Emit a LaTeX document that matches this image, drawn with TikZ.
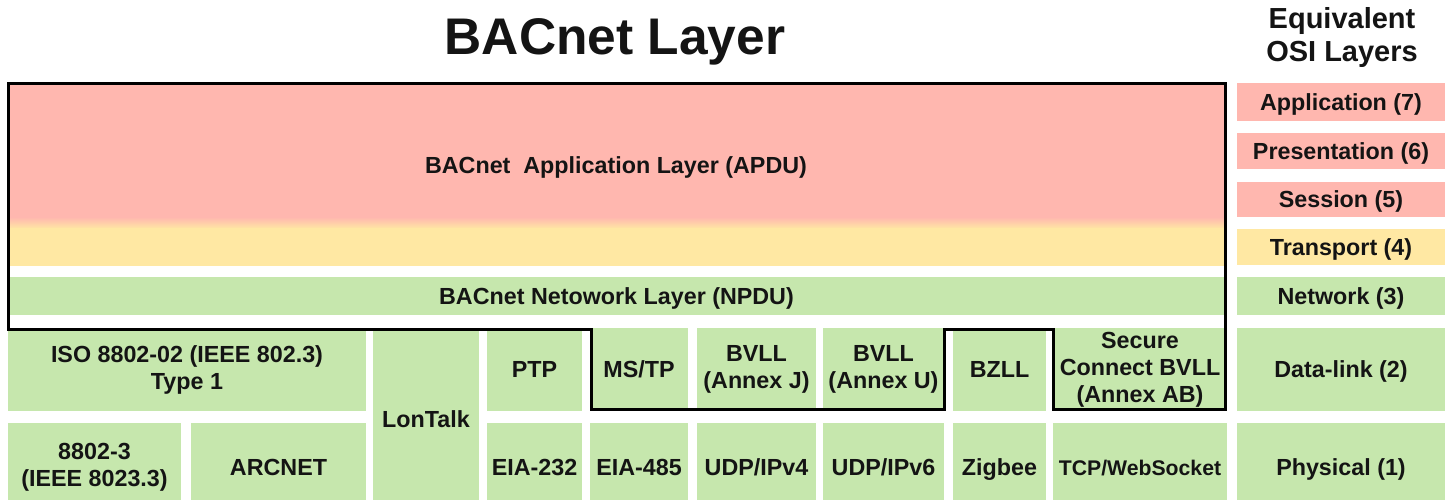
\documentclass[tikz,border=0pt]{standalone}
\usepackage{fontspec}
\setmainfont{Liberation Sans}
\definecolor{appred}{HTML}{FFB7AF}
\definecolor{trnyel}{HTML}{FFE8A3}
\definecolor{lgreen}{HTML}{C6E7AD}
\definecolor{ink}{HTML}{141414}
\tikzset{
  cell/.style={inner sep=0pt, outer sep=0pt, align=center, text=ink,
    font=\bfseries\fontsize{23.3}{27}\selectfont},
  gcell/.style={cell, fill=lgreen},
  oneline/.style={text height=18pt, text depth=1.3pt},
  osiheadtext/.style={inner sep=0pt, text=ink, font=\bfseries\fontsize{29}{33}\selectfont},
  stackline/.style={draw=black, line width=3pt, line join=miter}
}
\begin{document}
\begin{tikzpicture}[x=1pt, y=-1pt]
\useasboundingbox (0,0) rectangle (1448,500);
\clip (0,0) rectangle (1448,500);
\fill[white] (0,0) rectangle (1448,500);

% headings
\node[inner sep=0pt, text=ink, font=\bfseries\fontsize{51.5}{55}\selectfont] (title) at (615,42) {BACnet Layer};
\node[osiheadtext] (eqv) at (1342,21) {Equivalent};
\node[osiheadtext] (osih) at (1342,54) {OSI Layers};

% application / transport block
\fill[appred] (8,84) rectangle (1225,218);
\shade[top color=appred, bottom color=trnyel] (8,217) rectangle (1225,229);
\fill[trnyel] (8,228) rectangle (1225,266);
\node[cell, oneline] (apdu) at (616,165) {BACnet\ \ Application Layer (APDU)};

% network layer
\node[gcell, oneline, minimum width=1217pt, minimum height=38pt] (npdu) at (616.5,296) {BACnet Netowork Layer (NPDU)};

% data-link row
\node[gcell, minimum width=358pt, minimum height=83pt] (iso) at (187,369.5) {ISO 8802-02 (IEEE 802.3)\\Type 1};
\node[gcell, oneline, minimum width=106pt, minimum height=183pt] (lon) at (426,419.5) {LonTalk};
\node[gcell, oneline, minimum width=95pt, minimum height=83pt] (ptp) at (534.5,369.5) {PTP};
\node[gcell, oneline, minimum width=98pt, minimum height=83pt] (mstp) at (639,369.5) {MS/TP};
\node[gcell, minimum width=119pt, minimum height=83pt] (bvllj) at (756.5,369.5) {BVLL\\(Annex J)};
\node[gcell, minimum width=121pt, minimum height=83pt] (bvllu) at (883.5,369.5) {BVLL\\(Annex U)};
\node[gcell, oneline, minimum width=93pt, minimum height=83pt] (bzll) at (999.5,369.5) {BZLL};
\node[gcell, minimum width=174pt, minimum height=83pt] (sc) at (1140,369.5) {Secure\\Connect BVLL\\(Annex AB)};

% physical row
\node[gcell, minimum width=173pt, minimum height=88pt] (e88023) at (94.5,467) {8802-3\\(IEEE 8023.3)};
\node[gcell, oneline, minimum width=175pt, minimum height=88pt] (arc) at (278.5,467) {ARCNET};
\node[gcell, oneline, minimum width=95pt, minimum height=88pt] (eia232) at (534.5,467) {EIA-232};
\node[gcell, oneline, minimum width=98pt, minimum height=88pt] (eia485) at (639,467) {EIA-485};
\node[gcell, oneline, minimum width=119pt, minimum height=88pt] (udp4) at (756.5,467) {UDP/IPv4};
\node[gcell, oneline, minimum width=121pt, minimum height=88pt] (udp6) at (883.5,467) {UDP/IPv6};
\node[gcell, oneline, minimum width=93pt, minimum height=88pt] (zig) at (999.5,467) {Zigbee};
\node[gcell, oneline, minimum width=174pt, minimum height=88pt, font=\bfseries\fontsize{21.2}{25}\selectfont] (tcp) at (1140,467) {TCP/WebSocket};

% equivalent OSI layers
\node[cell, oneline, fill=appred, minimum width=208pt, minimum height=38pt] (osi7) at (1341,102) {Application (7)};
\node[cell, oneline, fill=appred, minimum width=208pt, minimum height=36pt] (osi6) at (1341,151) {Presentation (6)};
\node[cell, oneline, fill=appred, minimum width=208pt, minimum height=35pt] (osi5) at (1341,199.5) {Session (5)};
\node[cell, oneline, fill=trnyel, minimum width=208pt, minimum height=36pt] (osi4) at (1341,247) {Transport (4)};
\node[gcell, oneline, minimum width=208pt, minimum height=38pt] (osi3) at (1341,296) {Network (3)};
\node[gcell, oneline, minimum width=208pt, minimum height=83pt] (osi2) at (1341,369.5) {Data-link (2)};
\node[gcell, oneline, minimum width=208pt, minimum height=88pt] (osi1) at (1341,467) {Physical (1)};

% outline of the BACnet stack
\draw[stackline] (8,84) -- (1225,84) -- (1225,409) -- (1053,409) -- (1053,329)
  -- (944,329) -- (944,409) -- (591,409) -- (591,329) -- (8,329) -- cycle;
\end{tikzpicture}
\end{document}
